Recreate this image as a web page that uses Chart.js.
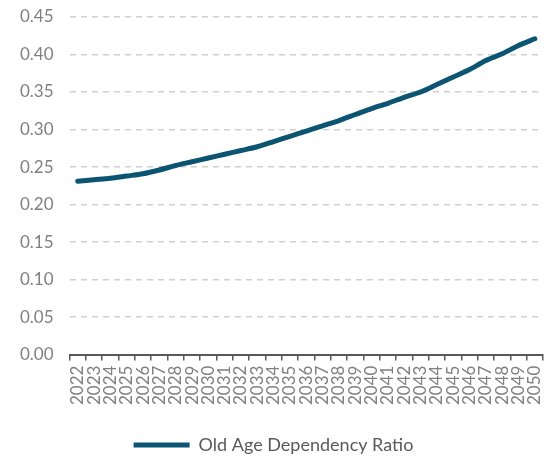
<!DOCTYPE html>
<html><head><meta charset="utf-8">
<script src="https://cdn.jsdelivr.net/npm/chart.js@4"></script>
<style>html,body{margin:0;padding:0;background:#fff}#w{width:550px;height:458px}</style>
</head><body><div id="w"><canvas id="c"></canvas></div>
<script>
const years = ['2022','2023','2024','2025','2026','2027','2028','2029','2030','2031','2032','2033','2034','2035','2036','2037','2038','2039','2040','2041','2042','2043','2044','2045','2046','2047','2048','2049','2050'];
const oldAgeDependencyRatio = [0.231,0.233,0.235,0.238,0.241,0.246,0.252,0.257,0.262,0.267,0.272,0.277,0.284,0.291,0.298,0.305,0.312,0.320,0.328,0.335,0.343,0.350,0.360,0.370,0.380,0.392,0.401,0.412,0.421];
const seriesName = 'Old Age Dependency Ratio';
const yTicks = {min:0, max:0.45, step:0.05};

new Chart(document.getElementById('c'), {
  type:'line',
  data:{labels:years, datasets:[{label:seriesName, data:oldAgeDependencyRatio, borderColor:'#0b5472', backgroundColor:'#0b5472', borderWidth:5, pointRadius:0, tension:0.3, borderCapStyle:'round', borderJoinStyle:'round'}]},
  options:{
    responsive:true, maintainAspectRatio:false, animation:false,
    layout:{autoPadding:false, padding:{left:4,right:7,top:17,bottom:-6}},
    plugins:{
      legend:{position:'bottom', labels:{usePointStyle:true, pointStyle:'line', pointStyleWidth:56, color:'#595959', font:{family:'Lato', size:18}, padding:26}},
      tooltip:{enabled:false}
    },
    scales:{
      x:{offset:true, grid:{offset:true, drawOnChartArea:false, drawTicks:true, tickLength:6, color:'#595959', lineWidth:1.5},
         border:{display:true, color:'#595959', width:2},
         afterFit:s=>{s.paddingRight=0;s.paddingLeft=0;},
         ticks:{minRotation:90, maxRotation:90, autoSkip:false, color:'#808080', font:{family:'Lato', size:17}, padding:5}},
      y:{min:yTicks.min, max:yTicks.max, border:{display:false, dash:[6,5]},
         grid:{color:'#d0d0d0', lineWidth:1.5, drawTicks:false},
         afterFit:s=>{s.paddingTop=0;},
         ticks:{stepSize:yTicks.step, color:'#808080', font:{family:'Lato', size:17}, padding:16, callback:v=>Number(v).toFixed(2)}}
    }
  }
});
</script></body></html>
